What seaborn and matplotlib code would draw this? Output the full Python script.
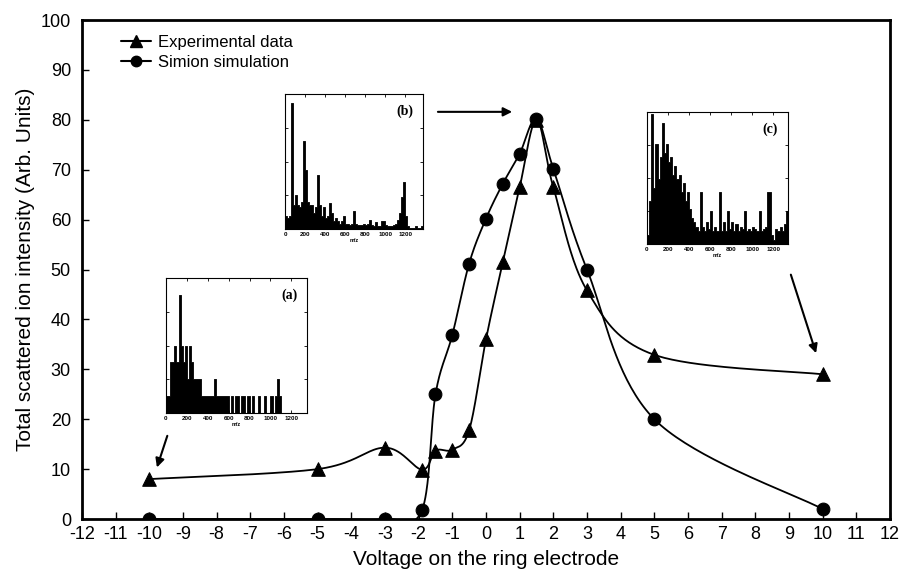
import numpy as np
import pandas as pd
import seaborn as sns
import matplotlib.pyplot as plt
from matplotlib.lines import Line2D

# main curves
exp_v = [-10, -5, -3, -1.9, -1.5, -1, -0.5, 0, 0.5, 1, 1.5, 2, 3, 5, 10]
exp_i = [8, 10, 14.3, 9.9, 13.7, 13.9, 17.8, 36, 51.5, 66.5, 80, 66.5, 45.8, 32.9, 29]
sim_v = [-10, -5, -3, -1.9, -1.5, -1, -0.5, 0, 0.5, 1, 1.5, 2, 3, 5, 10]
sim_i = [0, 0, 0, 1.8, 25, 36.9, 51.2, 60.2, 67.2, 73.2, 80.2, 70.2, 50, 20, 2]

# inset spectra (bin width 20)
bins_a = [1, 1, 3, 3, 4, 3, 7, 4, 3, 4, 2, 4, 3, 2, 2, 2, 2, 1, 1, 1,
          1, 1, 1, 2, 1, 1, 1, 1, 1, 1, 0, 1, 0, 1, 1, 0, 1, 1, 0, 1,
          0, 1, 0, 0, 1, 0, 0, 1, 0, 0, 1, 0, 1, 2, 1, 0]
bins_b = [0.5, 0.4, 0.5, 4.65, 0.9, 1.25, 0.9, 0.8, 1.0, 3.25, 2.2, 1.0, 0.9, 0.9,
          0.6, 0.8, 2.0, 0.9, 0.5, 0.8, 0.4, 0.5, 0.95, 0.6, 0.3, 0.4, 0.3, 0.2,
          0.3, 0.5, 0.2, 0.2, 0.15, 0.2, 0.65, 0.2, 0.15, 0.15, 0.15, 0.2, 0.15,
          0.2, 0.35, 0.15, 0.1, 0.25, 0.1, 0.1, 0.3, 0.3, 0.15, 0.1, 0.1, 0.1,
          0.15, 0.2, 0.35, 0.6, 1.2, 1.75, 0.5, 0.1, 0.05, 0.05, 0.05, 0.1, 0.05,
          0.05, 0.1]
bins_c = [0.2, 1.0, 3.0, 1.3, 2.3, 1.5, 2.0, 2.8, 2.1, 2.3, 1.9, 2.0, 1.6, 1.8,
          1.5, 1.6, 1.2, 1.4, 1.0, 1.2, 0.8, 0.6, 0.5, 0.4, 0.3, 1.2, 0.4, 0.3,
          0.5, 0.35, 0.75, 0.3, 0.4, 0.3, 1.2, 0.3, 0.5, 0.3, 0.75, 0.35, 0.5,
          0.3, 0.45, 0.3, 0.4, 0.35, 0.75, 0.3, 0.35, 0.3, 0.4, 0.35, 0.3, 0.75,
          0.3, 0.35, 0.4, 1.2, 1.2, 0.2, 0.1, 0.35, 0.3, 0.4, 0.3, 0.45, 0.75]
mz_ticks = [0, 200, 400, 600, 800, 1000, 1200]


def smooth(x, y, sx=6.75, n=40):
    # excel-like bezier smoothing through the points
    p = np.column_stack([np.asarray(x, float) * sx, np.asarray(y, float)])
    ext = np.vstack([p[0], p, p[-1]])
    out = []
    t = np.linspace(0, 1, n)[:, None]
    for i in range(len(p) - 1):
        p0, p1, p2, p3 = ext[i], ext[i + 1], ext[i + 2], ext[i + 3]
        c1 = p1 + (p2 - p0) / 6
        c2 = p2 - (p3 - p1) / 6
        seg = (1 - t) ** 3 * p1 + 3 * (1 - t) ** 2 * t * c1 + 3 * (1 - t) * t ** 2 * c2 + t ** 3 * p2
        out.append(seg if i == 0 else seg[1:])
    out = np.vstack(out)
    return out[:, 0] / sx, out[:, 1]


sns.set_style('ticks')
plt.rcParams['font.family'] = ['Liberation Sans', 'DejaVu Sans']
plt.rcParams['axes.unicode_minus'] = False
plt.rcParams['text.color'] = 'black'
plt.rcParams['axes.labelcolor'] = 'black'

fig = plt.figure(figsize=(9.04, 5.74), dpi=100)
ax = fig.add_axes([0.0907, 0.0958, 0.8938, 0.8693])

for xs, ys in [(exp_v, exp_i), (sim_v, sim_i)]:
    cx, cy = smooth(xs, ys)
    sns.lineplot(x=cx, y=cy, sort=False, estimator=None, color='black', lw=1.3, ax=ax)
sns.scatterplot(x=exp_v, y=exp_i, marker='^', s=95, color='black', edgecolor='black', ax=ax, zorder=5)
sns.scatterplot(x=sim_v, y=sim_i, marker='o', s=85, color='black', edgecolor='black', ax=ax, zorder=5)

ax.set_xlim(-12, 12)
ax.set_ylim(0, 100)
ax.set_xticks(range(-12, 13))
ax.set_yticks(range(0, 101, 10))
ax.tick_params(axis='both', which='both', direction='in', length=5, width=1, labelsize=13, colors='black')
ax.tick_params(axis='y', pad=8)
ax.tick_params(axis='x', pad=5)
for s in ax.spines.values():
    s.set_linewidth(2)
    s.set_color('black')
ax.set_xlabel('Voltage on the ring electrode', fontsize=15, labelpad=5, color='black')
ax.set_ylabel('Total scattered ion intensity (Arb. Units)', fontsize=15, labelpad=4, color='black')

handles = [Line2D([], [], color='black', lw=1.5, marker='^', markersize=8),
           Line2D([], [], color='black', lw=1.5, marker='o', markersize=7.5)]
ax.legend(handles, ['Experimental data', 'Simion simulation'], loc='upper left',
          bbox_to_anchor=(0.03, 1.0), frameon=False, fontsize=12, handlelength=1.8,
          handletextpad=0.4, labelspacing=0.3, labelcolor='black')

# arrows to the insets
arr = dict(arrowstyle='-|>', color='black', lw=1.5, mutation_scale=13)
ax.annotate('', xy=(-9.8, 9.8), xytext=(-9.44, 17.2), arrowprops=arr)
ax.annotate('', xy=(0.86, 81.6), xytext=(-1.51, 81.6), arrowprops=arr)
ax.annotate('', xy=(9.83, 32.7), xytext=(9.03, 49.5), arrowprops=arr)


def inset(rect, vals, xmax, ymax, label):
    a = fig.add_axes(rect)
    df = pd.DataFrame({'mz': np.arange(len(vals)) * 20.0 + 10, 'n': vals})
    sns.histplot(data=df, x='mz', weights='n', binwidth=20, binrange=(0, len(vals) * 20),
                 element='step', fill=True, color='black', alpha=1, lw=0.6, ax=a)
    a.set_xlim(0, xmax)
    a.set_ylim(0, ymax)
    a.set_xticks(mz_ticks)
    a.set_xticklabels([str(m) for m in mz_ticks], fontsize=4.5, fontweight='bold')
    a.set_yticks(np.linspace(0, ymax, 5))
    a.set_yticklabels(['' for _ in range(5)])
    a.tick_params(direction='in', length=2, width=0.6, top=True, right=True, pad=2, colors='black')
    a.set_xlabel('m/z', fontsize=4, fontweight='bold', labelpad=1)
    a.set_ylabel('')
    for s in a.spines.values():
        s.set_linewidth(0.8)
        s.set_color('black')
    a.text(0.93, 0.92, label, transform=a.transAxes, ha='right', va='top',
           fontsize=10, fontweight='bold', family=['Liberation Serif', 'DejaVu Serif'])
    return a


inset([0.1836, 0.2805, 0.156, 0.235], bins_a, 1350, 8, '(a)')
inset([0.3153, 0.601, 0.1527, 0.2352], bins_b, 1377, 5, '(b)')
inset([0.7157, 0.575, 0.156, 0.23], bins_c, 1340, 3.05, '(c)')

fig.savefig('out.png', dpi=100)
